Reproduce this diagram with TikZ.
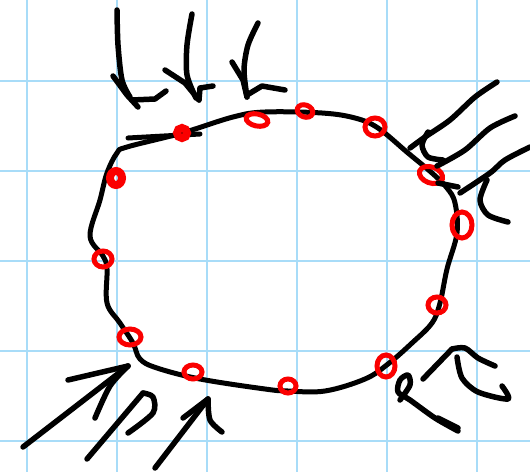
\documentclass[tikz,border=0pt]{standalone}
\usepackage{tikz}
\usetikzlibrary{calc}
\definecolor{gridblue}{RGB}{168,220,248}
\definecolor{penred}{RGB}{250,0,0}

\begin{document}
\begin{tikzpicture}[
	x=1pt, y=-1pt,
	gridline/.style={gridblue, line width=2pt},
	outline/.style={black, line width=5pt, line cap=round, line join=round},
	stroke/.style={black, line width=5.5pt, line cap=round, line join=round},
	redloop/.style={penred, line width=5pt},
	redblob/.style={penred, line width=8pt}
]

\useasboundingbox[fill=white] (0,0) rectangle (530,472);

% grid paper
\foreach \gx in {27,117,...,477}
	\draw[gridline] (\gx,0) -- (\gx,472);
\foreach \gy in {81,171,...,441}
	\draw[gridline] (0,\gy) -- (530,\gy);

% closed outline
\draw[outline] plot[smooth cycle, tension=0.6] coordinates {
	(127,147) (182,133) (233,117) (265,112) (322,113) (355,118) (378,128)
	(408,153) (432,173) (447,188) (455,203) (457,233) (447,269) (440,303)
	(432,323) (412,343) (388,364) (365,379) (325,391) (288,391) (265,389)
	(200,379) (157,368) (140,359) (133,343) (120,323) (107,303) (107,269)
	(103,256) (90,236) (100,200) (107,173) (117,153)};
\draw[outline] (128,138) -- (200,134);

% red loops on the outline
\draw[redblob] (182,133) circle (5);
\draw[redblob] (116,178) ellipse (6 and 7);
\draw[redloop, rotate around={-12:(257,120)}] (257,120) ellipse (11 and 6);
\draw[redloop, rotate around={-20:(305,111)}] (305,111) ellipse (8 and 6);
\draw[redloop] (375,127) ellipse (10 and 9);
\draw[redloop, rotate around={-20:(431,175)}] (431,175) ellipse (12 and 8);
\draw[redloop] (462,225) ellipse (10 and 13);
\draw[redloop] (437,305) ellipse (9 and 8);
\draw[redloop] (386,366) ellipse (9 and 11);
\draw[redloop] (288,386) ellipse (8 and 7);
\draw[redloop] (193,372) ellipse (9 and 7);
\draw[redloop] (130,337) ellipse (11 and 8);
\draw[redloop] (103,259) ellipse (9 and 8);

% arrows from the top
\draw[stroke] plot[smooth] coordinates {(117,10) (118,45) (122,80) (130,97)};
\draw[stroke] (113,76) -- (127,95) -- (138,107);
\draw[stroke] (132,100) -- (155,99) -- (166,91);
\draw[stroke] plot[smooth] coordinates {(192,14) (187,45) (187,75) (196,98)};
\draw[stroke] (165,70) -- (185,83) -- (199,100);
\draw[stroke] (199,100) -- (200,88) -- (213,86);
\draw[stroke] plot[smooth] coordinates {(258,23) (248,45) (244,70) (247,97)};
\draw[stroke] (232,62) -- (243,80) -- (247,97);
\draw[stroke] (247,95) -- (262,86) -- (285,90);

% arrows from the right
\draw[stroke] plot[smooth] coordinates {(497,82) (475,97) (450,120) (425,137) (410,148)};
\draw[stroke] plot[smooth] coordinates {(428,132) (422,145) (428,157) (443,160)};
\draw[stroke] plot[smooth] coordinates {(515,116) (490,128) (465,150) (437,166)};
\draw[stroke] plot[smooth] coordinates {(530,147) (505,160) (490,173) (460,193)};
\draw[stroke] (438,183) -- (458,187);
\draw[stroke] plot[smooth] coordinates {(487,180) (480,200) (488,215) (508,222)};

% arrows from the bottom right
\draw[stroke] plot[smooth] coordinates {(458,431) (435,418) (410,400) (398,392) (400,380) (408,375) (410,385) (400,400)};
\draw[stroke] (438,418) -- (458,428);
\draw[stroke] (423,379) -- (452,349);
\draw[stroke] plot[smooth] coordinates {(452,349) (465,348) (478,358) (495,366)};
\draw[stroke] plot[smooth] coordinates {(457,357) (462,378) (478,392) (508,399) (502,386)};

% arrows from the bottom left
\draw[stroke] (23,447) -- (128,366);
\draw[stroke] (68,380) -- (128,366);
\draw[stroke] plot[smooth] coordinates {(128,366) (110,386) (95,418)};
\draw[stroke] (87,459) -- (143,393);
\draw[stroke] plot[smooth] coordinates {(143,393) (153,397) (153,413) (128,433)};
\draw[stroke] (155,468) -- (208,399);
\draw[stroke] (183,418) -- (208,399);
\draw[stroke] plot[smooth] coordinates {(208,399) (210,420) (222,432)};

\end{tikzpicture}
\end{document}
